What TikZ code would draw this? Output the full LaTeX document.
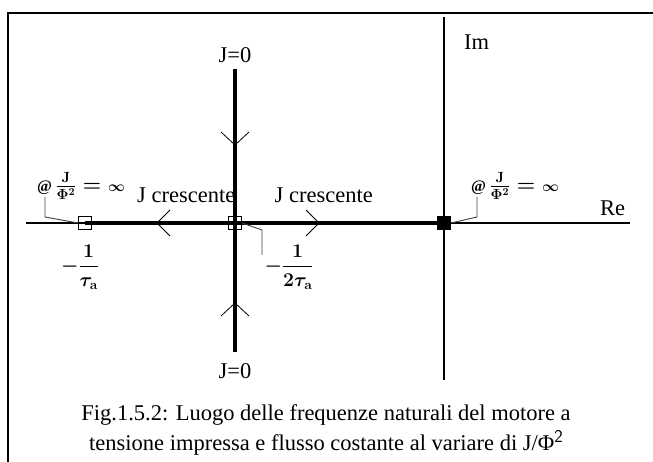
\documentclass[tikz,border=0pt]{standalone}
\usepackage{fix-cm}
\usepackage{amsmath}
\usepackage[no-math]{fontspec}
\setmainfont{Liberation Serif}
\newcommand{\chiocciola}{{\fontsize{16}{16}\selectfont\bfseries @}}
\begin{document}
\begin{tikzpicture}[x=1pt, y=-1pt, every node/.style={font=\fontsize{22.5}{30}\selectfont, inner sep=0pt},
  locus/.style={line width=4pt, black},
  axis/.style={line width=1.2pt, black},
  chev/.style={line width=0.8pt, black},
  leader/.style={line width=0.9pt, black!75},
  pole/.style={draw, line width=1pt, minimum size=13pt, inner sep=0pt},
  mathlab/.style={font=\fontsize{#1}{24}\selectfont\boldmath}]
    \useasboundingbox (0,0) rectangle (653,462);
    % cornice
    \draw[line width=2pt] (8,462) -- (8,13) -- (653,13);

    % assi
    \coordinate (re0) at (26,223);
    \coordinate (re1) at (630,223);
    \coordinate (im0) at (444,17);
    \coordinate (im1) at (444,380);
    \draw[axis] (re0) -- (re1);
    \draw[axis] (im0) -- (im1);
    \node[anchor=base west] (im) at (464,50) {Im};
    \node[anchor=base west] (re) at (600,216) {Re};

    % luogo delle radici
    \coordinate (vt) at (235,69);
    \coordinate (vb) at (235,352);
    \coordinate (pa) at (85,223);
    \coordinate (pm) at (235,223);
    \coordinate (p0) at (444,223);
    \draw[locus] (pa) -- (p0);
    \draw[locus] (vt) -- (vb);
    \node[pole] (boxa) at (pa) {};
    \node[pole] (boxm) at (pm) {};
    \node[pole, fill=black] (box0) at (p0) {};

    % frecce
    \draw[chev] (221,132) -- (235,145) -- (249,132);
    \draw[chev] (221,316) -- (235,303) -- (249,316);
    \draw[chev] (170,210) -- (157,223) -- (170,236);
    \draw[chev] (306,210) -- (319,223) -- (306,236);

    % etichette
    \node[anchor=base] (jtop) at (235,63) {J=0};
    \node[anchor=base] (jbot) at (235,378) {J=0};
    \node[anchor=base west] (crl) at (137,203) {J crescente};
    \node[anchor=base east] (crr) at (373,203) {J crescente};
    \node[mathlab=21] (infl) at (81,186) {\chiocciola\,$\frac{\mathbf J}{\mathbf\Phi^{\mathbf 2}}={\scriptstyle\infty}$};
    \node[mathlab=21] (infr) at (515,186) {\chiocciola\,$\frac{\mathbf J}{\mathbf\Phi^{\mathbf 2}}={\scriptstyle\infty}$};
    \node[mathlab=19.5] (ta) at (80,267) {$-\dfrac{1}{\tau_{\mathbf a}}$};
    \node[mathlab=19.5] (tm) at (289,267) {$-\dfrac{1}{2\tau_{\mathbf a}}$};

    % richiami
    \coordinate (ka1) at (45,217);
    \coordinate (ka2) at (45,197);
    \coordinate (km1) at (262,230);
    \coordinate (km2) at (262,255);
    \coordinate (k01) at (477,217);
    \coordinate (k02) at (477,197);
    \draw[leader] (boxa.west) -- (ka1) -- (ka2);
    \draw[leader] (boxm.east) -- (km1) -- (km2);
    \draw[leader] (box0.east) -- (k01) -- (k02);

    % didascalia
    \node[align=center] (cap) at (326,430) {Fig.1.5.2: Luogo delle frequenze naturali del motore a\\tensione impressa e flusso costante al variare di J/Φ\raisebox{0.35em}{\fontsize{18}{18}\selectfont\sffamily 2}};
\end{tikzpicture}
\end{document}
